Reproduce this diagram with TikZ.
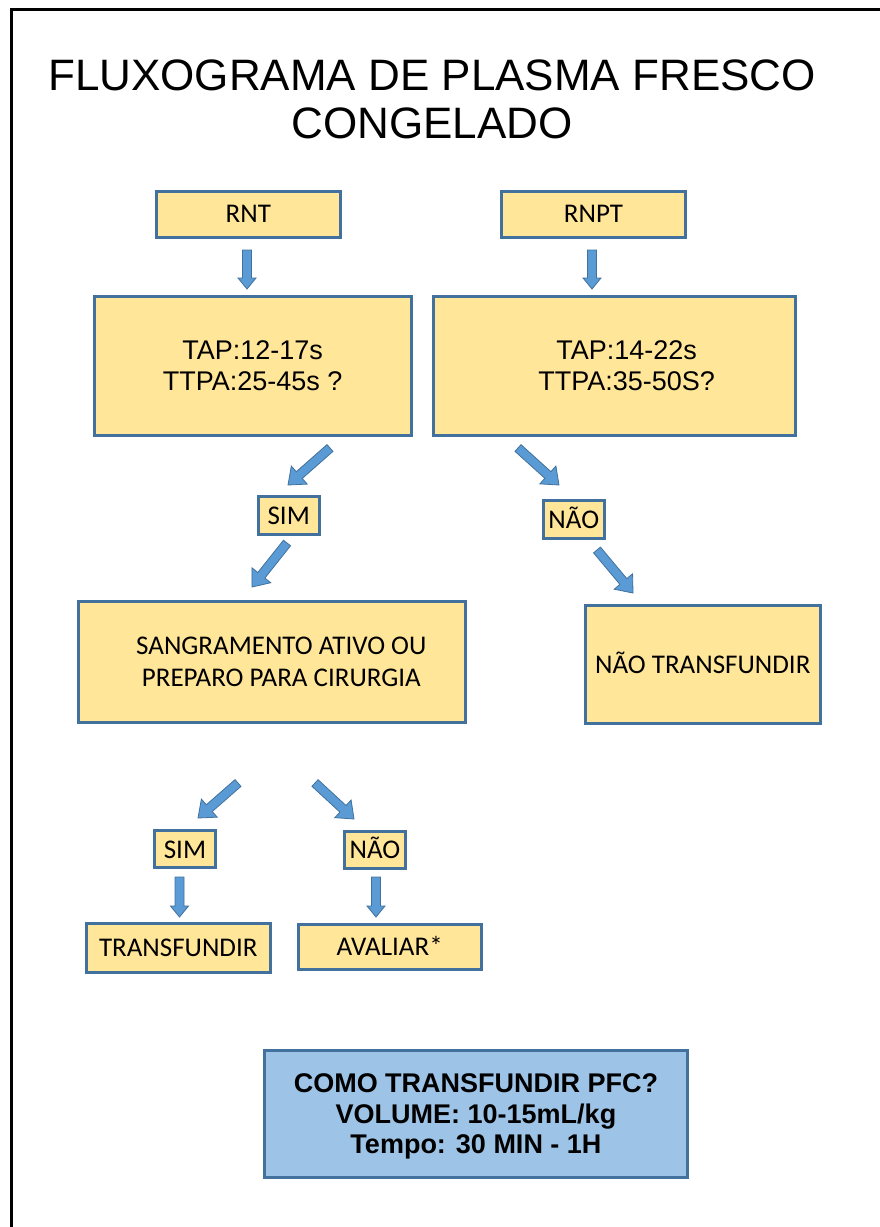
\documentclass[tikz,border=0pt]{standalone}
\usepackage{fontspec}
\newfontfamily\arialfont{Liberation Sans}
\newfontfamily\calibfont{Carlito}
\usetikzlibrary{calc}

\definecolor{boxfill}{HTML}{FFE699}
\definecolor{boxline}{HTML}{41719C}
\definecolor{arrowfill}{HTML}{5B9BD5}
\definecolor{notefill}{HTML}{9DC3E6}

% block arrow from #1 to #2, head half-width #3, head length #4
\newcommand\blockarrow[4]{%
  \coordinate (#2-base) at ($(#2)!#4!(#1)$);
  \filldraw[arrowbody]
    ($(#1)!4.5pt!90:(#2)$) -- ($(#2-base)!4.5pt!90:(#2)$) -- ($(#2-base)!#3!90:(#2)$) -- (#2)
    -- ($(#2-base)!#3!-90:(#2)$) -- ($(#2-base)!4.5pt!-90:(#2)$) -- ($(#1)!4.5pt!-90:(#2)$) -- cycle;
}

\begin{document}
\begin{tikzpicture}[x=1pt,y=-1pt,
  ybox/.style={draw=boxline, fill=boxfill, line width=3pt, inner sep=0pt,
    align=center, font=\calibfont\fontsize{27pt}{32pt}\selectfont},
  oneline/.style={text height=17.4pt, text depth=0pt},
  arialbox/.style={font=\arialfont\fontsize{27pt}{31pt}\selectfont},
  bluebox/.style={draw=boxline, fill=notefill, line width=3pt, inner sep=0pt,
    align=center, text depth=0pt,
    font=\arialfont\bfseries\fontsize{27pt}{30.5pt}\selectfont},
  sz/.style 2 args={minimum width=#1, minimum height=#2},
  arrowbody/.style={fill=arrowfill, draw=boxline, line width=0.8pt, line join=miter}]

\useasboundingbox (0,0) rectangle (879,1227);
\fill[white] (0,0) rectangle (879,1227);

% page frame
\draw[line width=3pt, line cap=rect] (11,1230) -- (11,9) -- (882,9);

% title
\node[align=center, text depth=0pt, font=\arialfont\fontsize{44pt}{48pt}\selectfont]
  (title) at (432,99) {FLUXOGRAMA DE PLASMA FRESCO\\CONGELADO};

% boxes
\node[ybox, oneline, sz={183.5pt}{46pt}] (rnt)  at (248.3,214) {RNT};
\node[ybox, oneline, sz={183.5pt}{46pt}] (rnpt) at (593.5,214) {RNPT};

\node[ybox, arialbox, sz={317pt}{138.7pt}] (tapl) at (252.7,366)
  {TAP:12-17s\\TTPA:25-45s ?};
\node[ybox, arialbox, sz={362pt}{138.7pt}] (tapr) at (614.2,366)
  {\hspace*{25pt}TAP:14-22s\\\hspace*{25pt}TTPA:35-50S?};

\node[ybox, oneline, sz={61pt}{38pt}] (sim1) at (288.7,515.5) {SIM};
\node[ybox, oneline, sz={61.3pt}{38pt}] (nao1) at (573.8,519.5) {NÃO};

\node[ybox, sz={387pt}{121.5pt}] (sang) at (272.3,661.8)
  {\hspace*{18pt}SANGRAMENTO ATIVO OU\\\hspace*{18pt}PREPARO PARA CIRURGIA};
\node[ybox, oneline, sz={234.7pt}{118pt}] (naot) at (702.8,664.5) {NÃO TRANSFUNDIR};

\node[ybox, oneline, sz={60.4pt}{37pt}] (sim2) at (185,849.3) {SIM};
\node[ybox, oneline, sz={60.4pt}{37pt}] (nao2) at (375,850) {NÃO};

\node[ybox, oneline, sz={183.7pt}{49pt}] (transf) at (178.3,947.5) {TRANSFUNDIR};
\node[ybox, oneline, sz={183pt}{45.3pt}] (aval) at (389.7,946.8) {AVALIAR*};

\node[bluebox, sz={423.6pt}{127pt}] (howto) at (476,1114)
  {COMO TRANSFUNDIR PFC?\\VOLUME: 10-15mL/kg\\Tempo: 30 MIN - 1H};

% arrow end points
\coordinate (a1s) at (247,250);   \coordinate (a1e) at (247,289);
\coordinate (a2s) at (592,250);   \coordinate (a2e) at (592,289);
\coordinate (a3s) at (330,448);   \coordinate (a3e) at (288,485);
\coordinate (a4s) at (287,543);   \coordinate (a4e) at (252,587);
\coordinate (a5s) at (518,448);   \coordinate (a5e) at (559,485);
\coordinate (a6s) at (597,550);   \coordinate (a6e) at (633,593);
\coordinate (a7s) at (238,783);   \coordinate (a7e) at (198,818);
\coordinate (a8s) at (315,783);   \coordinate (a8e) at (354,819);
\coordinate (a9s) at (179.5,877); \coordinate (a9e) at (179.5,917);
\coordinate (a10s) at (376,877);  \coordinate (a10e) at (376,917);

\blockarrow{a1s}{a1e}{9pt}{11pt}
\blockarrow{a2s}{a2e}{9pt}{11pt}
\blockarrow{a3s}{a3e}{12pt}{15pt}
\blockarrow{a4s}{a4e}{12pt}{15pt}
\blockarrow{a5s}{a5e}{12pt}{15pt}
\blockarrow{a6s}{a6e}{12pt}{15pt}
\blockarrow{a7s}{a7e}{12pt}{15pt}
\blockarrow{a8s}{a8e}{12pt}{15pt}
\blockarrow{a9s}{a9e}{9pt}{11pt}
\blockarrow{a10s}{a10e}{9pt}{11pt}
\end{tikzpicture}
\end{document}
